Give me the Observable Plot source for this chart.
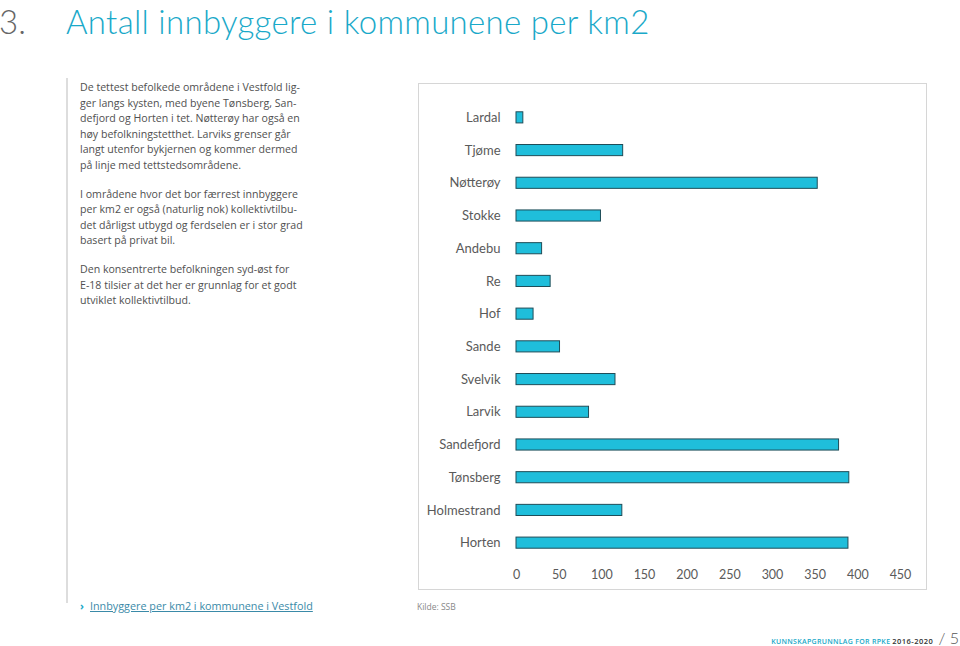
<!DOCTYPE html>
<html>
<head>
<meta charset="utf-8">
<script src="https://cdn.jsdelivr.net/npm/d3@7"></script>
<script src="https://cdn.jsdelivr.net/npm/@observablehq/plot@0.6"></script>
<style>
  html, body { margin: 0; padding: 0; background: #fff; }
  body { width: 960px; height: 646px; position: relative; overflow: hidden; font-family: "Open Sans", sans-serif; }
  #num { position: absolute; left: -1px; top: 1px; line-height: normal; font-family: Lato, sans-serif; font-weight: 300; font-size: 33px; color: #666; }
  #title { position: absolute; left: 66px; top: 1px; line-height: normal; font-family: Lato, sans-serif; font-weight: 300; font-size: 33px; letter-spacing: 0.3px; color: #1aa9c9; white-space: nowrap; }
  #rule { position: absolute; left: 66px; top: 78px; width: 2px; height: 525px; background: #ddd; }
  #text { position: absolute; left: 80px; top: 80px; width: 240px; font-size: 10.6px; line-height: 15.5px; color: #505050; }
  #text p { margin: 0 0 13.5px 0; }
  #box { position: absolute; left: 418px; top: 83px; width: 509px; height: 507px; border: 1px solid #d6d6d6; box-sizing: border-box; }
  #chart { position: absolute; left: 418px; top: 83px; }
  #link { position: absolute; left: 80px; top: 598px; font-size: 10.8px; color: #2b8fb0; white-space: nowrap; }
  #link .arr { font-weight: bold; color: #1aa9c9; margin-right: 6px; }
  #link u { color: #3a8aa8; }
  #src { position: absolute; left: 417px; top: 601px; font-size: 8.5px; color: #888; }
  #foot { position: absolute; right: 1px; top: 628px; white-space: nowrap; font-size: 7px; }
  #foot .k { color: #1aa9c9; letter-spacing: 0.3px; font-weight: 600; }
  #foot .y { color: #333; font-weight: 600; letter-spacing: 0.5px; font-size: 7.5px; }
  #foot .p { color: #555; font-size: 16px; font-family: Lato, sans-serif; font-weight: 300; margin-left: 5px; }
</style>
</head>
<body>
<div id="num">3.</div>
<div id="title">Antall innbyggere i kommunene per km2</div>
<div id="rule"></div>
<div id="text">
  <p>De tettest befolkede områdene i Vestfold lig-<br>ger langs kysten, med byene Tønsberg, San-<br>defjord og Horten i tet. Nøtterøy har også en<br>høy befolkningstetthet. Larviks grenser går<br>langt utenfor bykjernen og kommer dermed<br>på linje med tettstedsområdene.</p>
  <p>I områdene hvor det bor færrest innbyggere<br>per km2 er også (naturlig nok) kollektivtilbu-<br>det dårligst utbygd og ferdselen er i stor grad<br>basert på privat bil.</p>
  <p>Den konsentrerte befolkningen syd-øst for<br>E-18 tilsier at det her er grunnlag for et godt<br>utviklet kollektivtilbud.</p>
</div>
<div id="box"></div>
<div id="chart"></div>
<div id="link"><span class="arr">›</span><u>Innbyggere per km2 i kommunene i Vestfold</u></div>
<div id="src">Kilde: SSB</div>
<div id="foot"><span class="k">KUNNSKAPGRUNNLAG FOR RPKE</span> <span class="y">2016-2020</span><span class="p">/ 5</span></div>
<script>
const municipalities = ["Lardal", "Tjøme", "Nøtterøy", "Stokke", "Andebu", "Re", "Hof", "Sande", "Svelvik", "Larvik", "Sandefjord", "Tønsberg", "Holmestrand", "Horten"];
const density = [8, 125, 353, 99, 30, 40, 20, 51, 116, 85, 378, 390, 124, 389];
const xTicks = [0, 50, 100, 150, 200, 250, 300, 350, 400, 450];

const data = municipalities.map((m, i) => ({municipality: m, value: density[i]}));

const chart = Plot.plot({
  width: 509,
  height: 507,
  marginLeft: 98,
  marginRight: 27,
  marginTop: 18,
  marginBottom: 31,
  style: {fontFamily: "Lato, sans-serif", fontSize: "12.5px", color: "#5a5a5a", background: "transparent"},
  x: {domain: [0, 450], axis: null},
  y: {domain: municipalities, paddingInner: 0.66, paddingOuter: 0.33, round: false, axis: null},
  marks: [
    Plot.barX(data, {y: "municipality", x: "value", fill: "#1fbedb", stroke: "#1f4d58", strokeWidth: 1}),
    Plot.axisY({tickSize: 0, tickPadding: 16, fill: "#5a5a5a", label: null, fontSize: 13}),
    Plot.axisX({ticks: xTicks, tickSize: 0, tickPadding: 11, fill: "#5a5a5a", label: null, tickFormat: d => String(d)})
  ]
});
document.getElementById("chart").appendChild(chart);
</script>
</body>
</html>
